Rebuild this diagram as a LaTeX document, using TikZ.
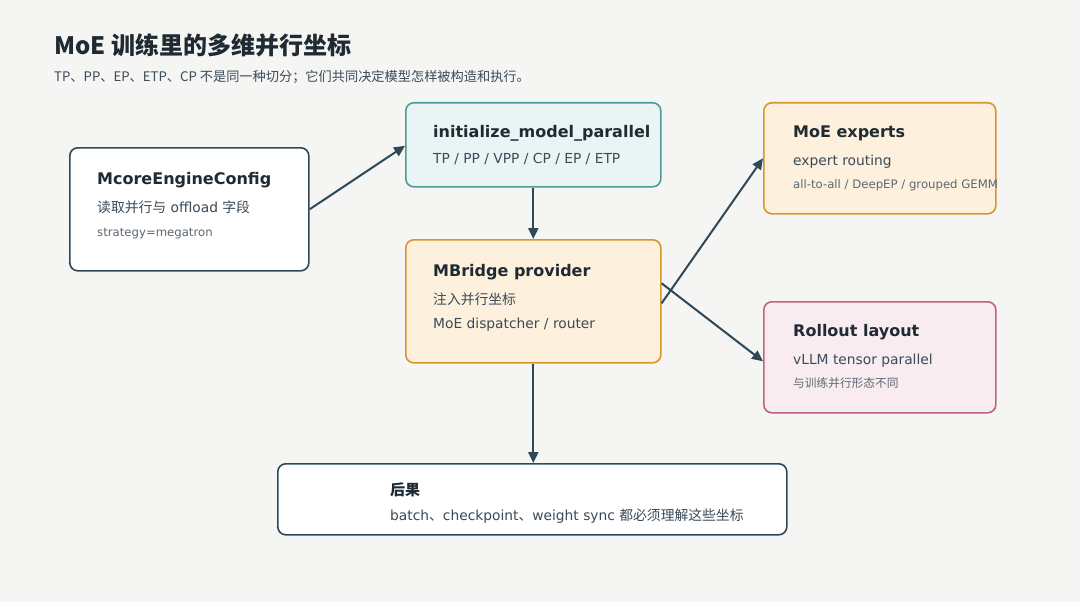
\documentclass[tikz,border=0pt]{standalone}
\usepackage{fontspec}
\setmainfont{DejaVu Sans}
\newfontfamily\cjk{Noto Sans CJK SC}
\usetikzlibrary{arrows.meta,calc}
\definecolor{bg}{HTML}{F5F5F3}
\definecolor{ink}{HTML}{1F2A33}
\definecolor{body}{HTML}{3A4A58}
\definecolor{soft}{HTML}{5C6873}
\definecolor{slate}{HTML}{2F4858}
\definecolor{tealfill}{HTML}{EAF4F4}
\definecolor{tealline}{HTML}{4E9C96}
\definecolor{orfill}{HTML}{FDF0DC}
\definecolor{orline}{HTML}{D9952E}
\definecolor{pkfill}{HTML}{F9ECF0}
\definecolor{pkline}{HTML}{C2627C}
\newcommand{\zh}[1]{{\cjk #1}}
\tikzset{
  box/.style={draw, line width=1.6pt, rounded corners=8pt, inner sep=0pt, anchor=north west},
  plainbox/.style={box, draw=slate, fill=white},
  tealbox/.style={box, draw=tealline, fill=tealfill},
  orbox/.style={box, draw=orline, fill=orfill},
  pkbox/.style={box, draw=pkline, fill=pkfill},
  ttl/.style={anchor=base west, inner sep=0pt, text=ink, font=\fontsize{16}{20}\selectfont\bfseries},
  sub/.style={anchor=base west, inner sep=0pt, text=body, font=\fontsize{13.8}{16}\selectfont},
  small/.style={anchor=base west, inner sep=0pt, text=soft, font=\fontsize{11.7}{14}\selectfont},
  conn/.style={draw=slate, line width=2pt, -{Triangle[length=11pt,width=10pt]}},
}
\begin{document}
\begin{tikzpicture}[x=1pt,y=-1pt]
\fill[bg] (0,0) rectangle (1080,602);
\useasboundingbox (0,0) rectangle (1080,602);

\node[anchor=base west, inner sep=0pt, text=ink, font=\cjk\fontsize{24}{28}\selectfont\bfseries] (title) at (54,55) {MoE 训练里的多维并行坐标};
\node[anchor=base west, inner sep=0pt, text=body, font=\cjk\fontsize{13.2}{16}\selectfont] (subtitle) at (54,82) {TP、PP、EP、ETP、CP 不是同一种切分；它们共同决定模型怎样被构造和执行。};

% boxes
\node[plainbox, minimum width=239pt, minimum height=123pt] (cfg) at (69,147) {};
\node[tealbox, minimum width=255pt, minimum height=84pt] (init) at (405,102) {};
\node[orbox, minimum width=255pt, minimum height=123pt] (mb) at (405,239) {};
\node[orbox, minimum width=232pt, minimum height=111pt] (ex) at (763,102) {};
\node[pkbox, minimum width=232pt, minimum height=111pt] (ro) at (763,301) {};
\node[plainbox, minimum width=509pt, minimum height=71pt] (res) at (277,463) {};

% texts
\node[ttl] (cfgT) at (97,184) {McoreEngineConfig};
\node[sub] (cfgS) at (97,212) {\zh{读取并行与} offload \zh{字段}};
\node[small] (cfgX) at (97,236) {strategy=megatron};

\node[ttl] (initT) at (433,138) {initialize\_model\_parallel};
\node[sub] (initS) at (433,163) {TP / PP / VPP / CP / EP / ETP};

\node[ttl] (mbT) at (433,276) {MBridge provider};
\node[sub] (mbS) at (433,304) {\zh{注入并行坐标}};
\node[sub] (mbX) at (433,328) {MoE dispatcher / router};

\node[ttl] (exT) at (793,137) {MoE experts};
\node[sub] (exS) at (793,165) {expert routing};
\node[small] (exX) at (793,188) {all-to-all / DeepEP / grouped GEMM};

\node[ttl] (roT) at (793,336) {Rollout layout};
\node[sub] (roS) at (793,364) {vLLM tensor parallel};
\node[small] (roX) at (793,387) {\zh{与训练并行形态不同}};

\node[anchor=base west, inner sep=0pt, text=ink, font=\cjk\fontsize{15}{18}\selectfont\bfseries] (resT) at (390,495) {后果};
\node[sub] (resS) at (390,520) {batch\zh{、}checkpoint\zh{、}weight sync \zh{都必须理解这些坐标}};

% connectors
\draw[conn] (cfg.east) -- ([yshift=-1pt]init.west);
\draw[conn] (init.south) -- (mb.north);
\draw[conn] ([yshift=-2pt]mb.east) -- (ex.west);
\draw[conn] ([yshift=18pt]mb.east) -- ([yshift=-4pt]ro.west);
\draw[conn] (mb.south) -- (mb.south |- res.north);
\end{tikzpicture}
\end{document}
